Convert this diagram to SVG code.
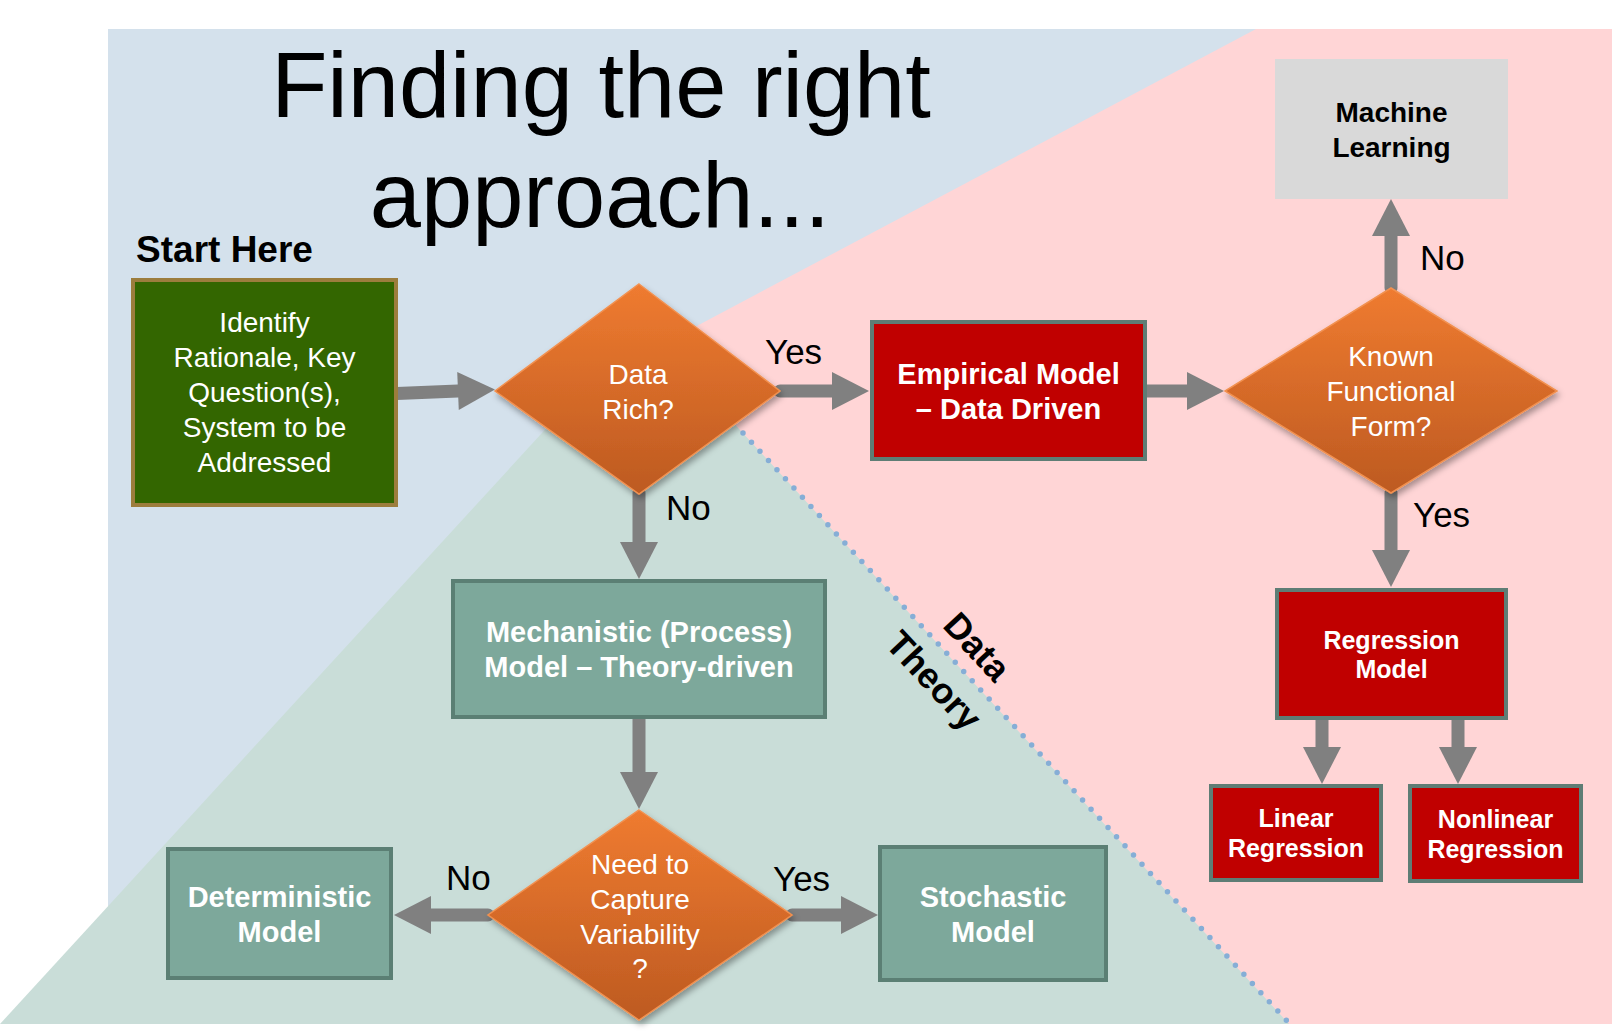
<svg xmlns="http://www.w3.org/2000/svg" width="1612" height="1034" viewBox="0 0 1612 1034">
<defs>
<linearGradient id="og" x1="0" y1="0" x2="0" y2="1">
<stop offset="0" stop-color="#EF7B30"/>
<stop offset="1" stop-color="#BD5A21"/>
</linearGradient>
<filter id="sh" x="-10%" y="-10%" width="130%" height="130%">
<feDropShadow dx="2" dy="4" stdDeviation="3" flood-color="#000" flood-opacity="0.35"/>
</filter>
<marker id="ah" markerUnits="userSpaceOnUse" markerWidth="38" markerHeight="38" viewBox="0 0 37 38" refX="0" refY="19" orient="auto">
<path d="M0,0 L37,19 L0,38 Z" fill="#808080"/>
</marker>
</defs>
<style>
.t{font-family:"Liberation Sans",Arial,sans-serif;text-anchor:middle}
.w{fill:#fff}
.b{font-weight:bold}
.f28{font-size:28px}
.f29{font-size:29px}
.f25{font-size:25px}
.lbl{font-family:"Liberation Sans",Arial,sans-serif;font-size:35px;fill:#000}
.dia{fill:url(#og);stroke:#F29150;stroke-width:1.5;filter:url(#sh)}
.red{fill:#C00000;stroke:#5E7D75;stroke-width:4}
.teal{fill:#7DA89B;stroke:#5B7F74;stroke-width:4}
.con{stroke:#808080;stroke-width:13;fill:none;stroke-linecap:round;marker-end:url(#ah)}
</style>
<rect width="1612" height="1034" fill="#fff"/>
<g id="background">
<rect x="108" y="29" width="1504" height="995" fill="#D4E1EC"/>
<polygon points="1256,29 1612,29 1612,1024 1289,1024 661,345" fill="#FFD5D6"/>
<polygon points="642,324 1289,1024 0,1024" fill="#C9DDD8"/>
<line x1="743" y1="433" x2="1288" y2="1022" stroke="#86AED6" stroke-width="5.5" stroke-linecap="round" stroke-dasharray="0 12.5"/>
<text class="t b" font-size="36" transform="translate(968,655) rotate(47)">Data</text>
<text class="t b" font-size="36" transform="translate(925,689) rotate(47)">Theory</text>
</g>
<g id="title">
<text class="t" font-size="92" x="601" y="117">Finding the right</text>
<text class="t" font-size="92" x="600" y="227">approach...</text>
<text class="t b" font-size="37" x="224.5" y="262">Start Here</text>
</g>
<g id="connectors">
<path class="con" d="M397,393.5 L458,391"/>
<path class="con" d="M780,391 L832,391"/>
<path class="con" d="M1147,391 L1187,391"/>
<path class="con" d="M1391,288 L1391,236"/>
<path class="con" d="M1391,493 L1391,550"/>
<path class="con" d="M639,493 L639,542"/>
<path class="con" d="M639,719 L639,772"/>
<path class="con" d="M488,915 L431,915"/>
<path class="con" d="M792,915 L841,915"/>
<path class="con" d="M1322,718 L1322,747"/>
<path class="con" d="M1458,718 L1458,747"/>
<text class="lbl" x="765" y="364">Yes</text>
<text class="lbl" x="666" y="520">No</text>
<text class="lbl" x="1420" y="270">No</text>
<text class="lbl" x="1413" y="527">Yes</text>
<text class="lbl" x="446" y="890">No</text>
<text class="lbl" x="773" y="891">Yes</text>
</g>
<g id="start">
<rect x="133" y="280" width="263" height="225" fill="#336600" stroke="#9C7D3D" stroke-width="4"/>
<text class="t w f28" x="264.5" y="332">Identify</text>
<text class="t w f28" x="264.5" y="367">Rationale, Key</text>
<text class="t w f28" x="264.5" y="402">Question(s),</text>
<text class="t w f28" x="264.5" y="437">System to be</text>
<text class="t w f28" x="264.5" y="472">Addressed</text>
</g>
<g id="data-rich">
<polygon class="dia" points="639,284 780,391 639,494 495,391"/>
<text class="t w f28" x="638" y="384">Data</text>
<text class="t w f28" x="638" y="419">Rich?</text>
</g>
<g id="empirical">
<rect class="red" x="872" y="322" width="273" height="137"/>
<text class="t w b f29" x="1008.5" y="384">Empirical Model</text>
<text class="t w b f29" x="1008.5" y="419">– Data Driven</text>
</g>
<g id="known-form">
<polygon class="dia" points="1391,288 1557,391 1391,493 1225,391"/>
<text class="t w f28" x="1391" y="366">Known</text>
<text class="t w f28" x="1391" y="401">Functional</text>
<text class="t w f28" x="1391" y="436">Form?</text>
</g>
<g id="machine-learning">
<rect x="1275" y="59" width="233" height="140" fill="#D9D9D9"/>
<text class="t b f28" x="1391.5" y="122">Machine</text>
<text class="t b f28" x="1391.5" y="157">Learning</text>
</g>
<g id="regression">
<rect class="red" x="1277" y="590" width="229" height="128"/>
<text class="t w b f25" x="1391.5" y="649">Regression</text>
<text class="t w b f25" x="1391.5" y="678">Model</text>
</g>
<g id="linear">
<rect class="red" x="1211" y="786" width="170" height="94"/>
<text class="t w b f25" x="1296" y="827">Linear</text>
<text class="t w b f25" x="1296" y="857">Regression</text>
</g>
<g id="nonlinear">
<rect class="red" x="1410" y="786" width="171" height="95"/>
<text class="t w b f25" x="1495.5" y="828">Nonlinear</text>
<text class="t w b f25" x="1495.5" y="858">Regression</text>
</g>
<g id="mechanistic">
<rect class="teal" x="453" y="581" width="372" height="136"/>
<text class="t w b f29" x="639" y="642">Mechanistic (Process)</text>
<text class="t w b f29" x="639" y="677">Model – Theory-driven</text>
</g>
<g id="capture">
<polygon class="dia" points="639,810 792,915 639,1020 488,915"/>
<text class="t w f28" x="640" y="874">Need to</text>
<text class="t w f28" x="640" y="909">Capture</text>
<text class="t w f28" x="640" y="944">Variability</text>
<text class="t w f28" x="640" y="978">?</text>
</g>
<g id="deterministic">
<rect class="teal" x="168" y="849" width="223" height="129"/>
<text class="t w b f29" x="279.5" y="907">Deterministic</text>
<text class="t w b f29" x="279.5" y="942">Model</text>
</g>
<g id="stochastic">
<rect class="teal" x="880" y="847" width="226" height="133"/>
<text class="t w b f29" x="993" y="907">Stochastic</text>
<text class="t w b f29" x="993" y="942">Model</text>
</g>
</svg>
